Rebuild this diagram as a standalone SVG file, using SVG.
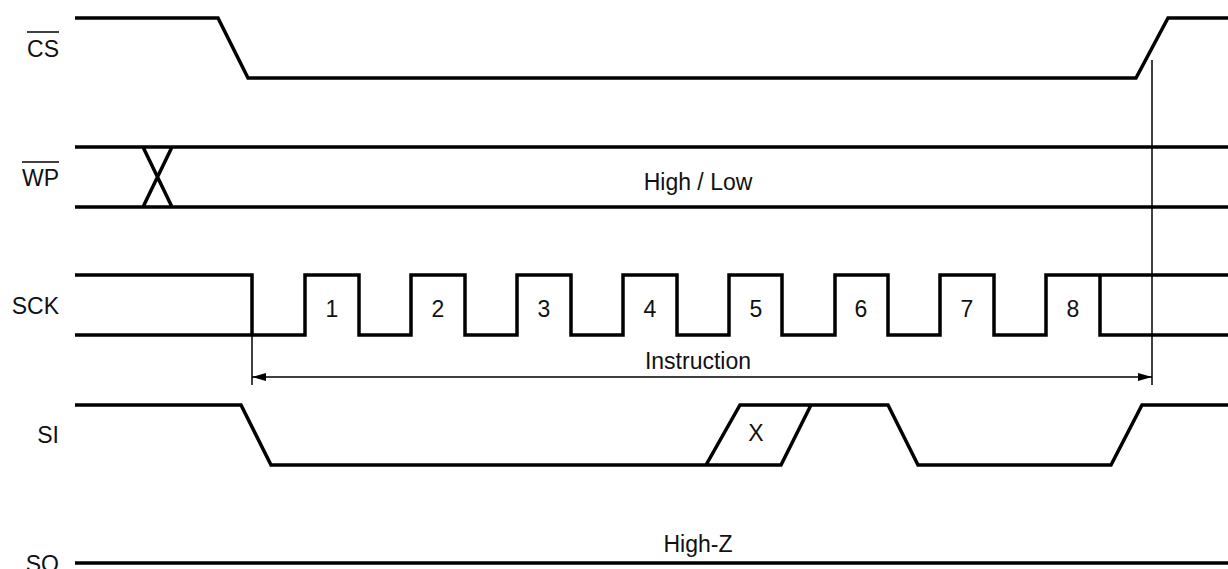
<svg xmlns="http://www.w3.org/2000/svg" width="1228" height="569" viewBox="0 0 1228 569">
<style>
.sig{fill:none;stroke:#000;stroke-width:3.5;stroke-linejoin:miter;stroke-linecap:butt}
.thin{fill:none;stroke:#000;stroke-width:1.5}
.lbl{font-family:"Liberation Sans",Arial,sans-serif;font-size:23px;fill:#111}
.end{text-anchor:end}
.mid{text-anchor:middle}
</style>
<defs>
<marker id="ah" viewBox="0 0 14 8" refX="14" refY="4" markerWidth="14" markerHeight="8" markerUnits="userSpaceOnUse" orient="auto-start-reverse">
<path d="M0,0 L14,4 L0,8 Z" fill="#000"/>
</marker>
</defs>
<rect width="1228" height="569" fill="#fff"/>
<g id="cs">
<text class="lbl end" x="59" y="57">CS</text>
<line class="thin" x1="27" y1="32" x2="59" y2="32"/>
<path class="sig" d="M75,18 H218 L248,78 H1136 L1168,18 H1228"/>
</g>
<g id="wp">
<text class="lbl end" x="59" y="186">WP</text>
<line class="thin" x1="22" y1="162" x2="59" y2="162"/>
<path class="sig" d="M75,147 H1228 M75,207 H1228 M143,147 L172,207 M172,147 L143,207"/>
<text class="lbl mid" x="698" y="190">High / Low</text>
</g>
<g id="sck">
<text class="lbl end" x="59" y="314">SCK</text>
<path class="sig" d="M75,275 H252 V335 H305 V275 H359 V335 H411 V275 H465 V335 H517 V275 H571 V335 H623 V275 H677 V335 H729 V275 H782 V335 H835 V275 H888 V335 H940 V275 H994 V335 H1046 V275 H1228 M75,335 H252 M1100,275 V335 H1228"/>
<text class="lbl mid" x="332" y="317">1</text>
<text class="lbl mid" x="438" y="317">2</text>
<text class="lbl mid" x="544" y="317">3</text>
<text class="lbl mid" x="650" y="317">4</text>
<text class="lbl mid" x="756" y="317">5</text>
<text class="lbl mid" x="861" y="317">6</text>
<text class="lbl mid" x="967" y="317">7</text>
<text class="lbl mid" x="1073" y="317">8</text>
</g>
<g id="si">
<text class="lbl end" x="59" y="443">SI</text>
<path class="sig" d="M75,405 H241 L271,465 H706 L740,405 H888 L918,465 H1111 L1142,405 H1228 M706,465 H781 L811,405"/>
<text class="lbl mid" x="756" y="441">X</text>
</g>
<g id="so">
<text class="lbl end" x="59" y="572">SO</text>
<path class="sig" d="M75,563 H1228"/>
<text class="lbl mid" x="698" y="552">High-Z</text>
</g>
<g id="connectors">
<line class="thin" x1="252" y1="335" x2="252" y2="385"/>
<line class="thin" x1="1152" y1="60" x2="1152" y2="385"/>
<line class="thin" x1="252" y1="377" x2="1152" y2="377" marker-start="url(#ah)" marker-end="url(#ah)"/>
<text class="lbl mid" x="698" y="369">Instruction</text>
</g>
</svg>
